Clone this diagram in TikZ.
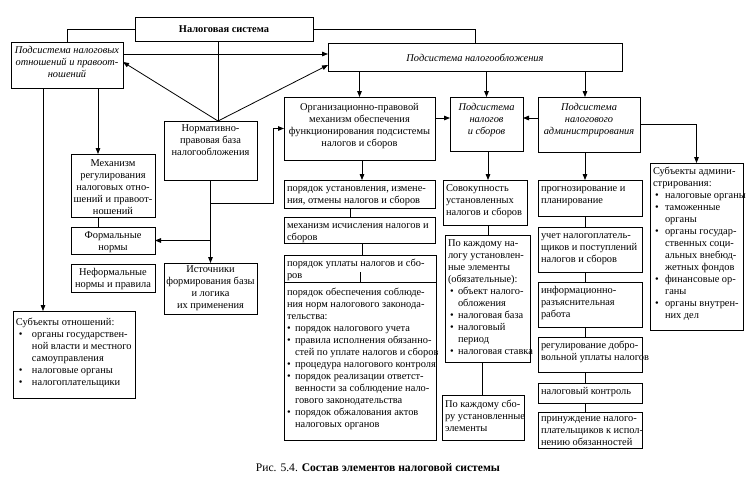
\documentclass[tikz,border=0pt]{standalone}
\usepackage{fontspec}
\setmainfont{Liberation Serif}
\usepackage{array}
\usetikzlibrary{arrows.meta,calc}
\tikzset{
  box/.style={draw, line width=0.8pt, inner xsep=3pt, inner ysep=0pt, outer sep=0pt,
    anchor=north west, font=\fontsize{10.4}{12}\selectfont},
  arr/.style={line width=0.8pt, -{Triangle[length=6pt,width=4.6pt]}},
  ln/.style={line width=0.8pt}
}
% [first-line height]{name}{x1}{y1}{x2}{y2}{l|c}{font}{lines}
\newcommand\drawbox[9][11]{%
  \pgfmathsetmacro\bxw{#5-#3}%
  \pgfmathsetmacro\bxh{#6-#4}%
  \pgfmathsetmacro\bxt{#5-#3-6}%
  \node[box,minimum width=\bxw pt,minimum height=\bxh pt] (#2) at (#3,#4)
    {\parbox[c][\bxh pt][t]{\bxt pt}{#8\makebox[\bxt pt][#7]{\begin{tabular}[t]{@{}#7@{}}\rule{0pt}{#1pt}#9\end{tabular}}}};}
\newcommand\bl[2]{\hspace*{#1pt}\makebox[\dimexpr#2pt-#1pt\relax][l]{\textbullet}}
\begin{document}
\begin{tikzpicture}[x=1pt,y=-1pt]
\fill[white] (0,0) rectangle (750,491);
\useasboundingbox (0,0) rectangle (750,491);

% top level
\drawbox[15.5]{sys}{135}{17}{313}{41}{c}{\bfseries}{Налоговая система}
\drawbox{sub1}{11}{42}{123}{88}{c}{\itshape}{Подсистема налоговых\\отношений и правоот-\\ношений}
\drawbox[18]{sub2}{328}{43}{622}{71}{c}{\itshape}{Подсистема налогообложения}

% second level
\drawbox[13]{org}{284}{97}{435}{160}{c}{}{Организационно-правовой\\механизм обеспечения\\функционирования подсистемы\\налогов и сборов}
\drawbox[13]{taxes}{450}{97}{523}{151}{c}{\itshape}{Подсистема\\налогов\\и сборов}
\drawbox[13]{adm}{538}{97}{640}{152}{c}{\itshape}{Подсистема\\налогового\\администрирования}
\drawbox[10]{norm}{164}{121}{257}{180}{c}{}{Нормативно-\\правовая база\\налогообложения}

% left column
\drawbox[12]{mekh}{71}{154}{155}{217}{c}{}{Механизм\\регулирования\\налоговых отно-\\шений и правоот-\\ношений}
\drawbox{formal}{71}{227}{155}{254}{c}{}{Формальные\\нормы}
\drawbox{neformal}{71}{264}{155}{292}{c}{}{Неформальные\\нормы и правила}
\drawbox[9]{istoch}{164}{263}{257}{314}{c}{}{Источники\\формирования базы\\и логика\\их применения}
\drawbox[14]{subotn}{13}{311}{135}{398}{l}{}{Субъекты отношений:\\
\bl{3}{16}органы государствен-\\
\hspace*{16pt}ной власти и местного\\
\hspace*{16pt}самоуправления\\
\bl{3}{16}налоговые органы\\
\bl{3}{16}налогоплательщики}

% middle column
\drawbox{ustan}{284}{180}{435}{208}{l}{}{порядок установления, измене-\\ния, отмены налогов и сборов}
\drawbox{ischisl}{284}{217}{435}{243}{l}{}{механизм исчисления налогов и\\сборов}
\drawbox{uplaty}{284}{255}{436}{282}{l}{}{порядок уплаты налогов и сбо-\\ров}
\drawbox[13]{obesp}{284}{282}{436}{440}{l}{}{порядок обеспечения соблюде-\\ния норм налогового законода-\\тельства:\\
\bl{0}{8}порядок налогового учета\\
\bl{0}{8}правила исполнения обязанно-\\
\hspace*{8pt}стей по уплате налогов и сборов\\
\bl{0}{8}процедура налогового контроля\\
\bl{0}{8}порядок реализации ответст-\\
\hspace*{8pt}венности за соблюдение нало-\\
\hspace*{8pt}гового законодательства\\
\bl{0}{8}порядок обжалования актов\\
\hspace*{8pt}налоговых органов}

% taxes column
\drawbox{sovok}{443}{180}{527}{225}{l}{}{Совокупность\\установленных\\налогов и сборов}
\drawbox{pokazh}{445}{235}{530}{362}{l}{}{По каждому на-\\логу установлен-\\ные элементы\\(обязательные):\\
\bl{2}{10}объект налого-\\
\hspace*{10pt}обложения\\
\bl{2}{10}налоговая база\\
\bl{2}{10}налоговый\\
\hspace*{10pt}период\\
\bl{2}{10}налоговая ставка}
\drawbox[12]{posbor}{442}{395}{524}{440}{l}{}{По каждому сбо-\\ру установленные\\элементы}

% administration column
\drawbox{prog}{538}{180}{642}{216}{l}{}{прогнозирование и\\планирование}
\drawbox{uchet}{538}{227}{642}{272}{l}{}{учет налогоплатель-\\щиков и поступлений\\налогов и сборов}
\drawbox{info}{538}{282}{642}{327}{l}{}{информационно-\\разъяснительная\\работа}
\drawbox{reg}{538}{337}{642}{372}{l}{}{регулирование добро-\\вольной уплаты налогов}
\drawbox{kontr}{538}{383}{642}{403}{l}{}{налоговый контроль}
\drawbox[9]{prin}{538}{412}{642}{448}{l}{}{принуждение налого-\\плательщиков к испол-\\нению обязанностей}
\drawbox{subadm}{650}{163}{743}{330}{l}{}{Субъекты админи-\\стрирования:\\
\bl{2}{12}налоговые органы\\
\bl{2}{12}таможенные\\
\hspace*{12pt}органы\\
\bl{2}{12}органы государ-\\
\hspace*{12pt}ственных соци-\\
\hspace*{12pt}альных внебюд-\\
\hspace*{12pt}жетных фондов\\
\bl{2}{12}финансовые ор-\\
\hspace*{12pt}ганы\\
\bl{2}{12}органы внутрен-\\
\hspace*{12pt}них дел}

% helper coordinates
\coordinate (apex) at (218,121);
\coordinate (xA) at (585,0);
\coordinate (xT) at (488,0);
\coordinate (xP) at (482,0);
\coordinate (xO) at (362,0);
\coordinate (xO2) at (350,0);
\coordinate (x98) at (98,0);
\coordinate (x43) at (43,0);
\coordinate (yH) at (0,118);
\coordinate (y124) at (0,124);
\coordinate (br) at (273,203);
\coordinate (tick) at (360,272);

% connectors
\draw[ln] (sys.west) -| (sub1.north);
\draw[ln] (sys.east) -| (sub2.north);
\draw[ln] (apex |- sys.south) -- (apex);
\draw[arr] (apex) -- ($(sub1.north east)+(0,20)$);
\draw[arr] (apex) -- ($(sub2.south west)+(0,-6)$);
\draw[arr] ($(sub1.north east)+(0,12)$) -- ($(sub2.north west)+(0,11)$);
\draw[arr] (org.north |- sub2.south) -- (org.north);
\draw[arr] (taxes.north |- sub2.south) -- (taxes.north);
\draw[arr] (xA |- sub2.south) -- (xA |- adm.north);
\draw[arr] (org.east |- yH) -- (taxes.west |- yH);
\draw[arr] (adm.west |- yH) -- (taxes.east |- yH);
\draw[arr] (adm.east |- y124) -| (subadm.north);
\draw[arr] (xA |- adm.south) -- (xA |- prog.north);
\draw[ln] (xA |- prog.south) -- (xA |- uchet.north);
\draw[ln] (xA |- uchet.south) -- (xA |- info.north);
\draw[ln] (xA |- info.south) -- (xA |- reg.north);
\draw[ln] (xA |- reg.south) -- (xA |- kontr.north);
\draw[ln] (xA |- kontr.south) -- (xA |- prin.north);
\draw[arr] (xT |- taxes.south) -- (xT |- sovok.north);
\draw[ln] (xT |- sovok.south) -- (xT |- pokazh.north);
\draw[ln] (xP |- pokazh.south) -- (xP |- posbor.north);
\draw[arr] (xO |- org.south) -- (xO |- ustan.north);
\draw[ln] (xO2 |- ustan.south) -- (xO2 |- ischisl.north);
\draw[ln] (xO |- ischisl.south) -- (xO |- uplaty.north);
\draw[ln] (tick) -- (tick |- uplaty.south);
\draw[arr] (x98 |- sub1.south) -- (x98 |- mekh.north);
\draw[ln] (x98 |- mekh.south) -- (x98 |- formal.north);
\draw[arr] (x43 |- sub1.south) -- (x43 |- subotn.north);
\draw[arr] (norm.south) -- (istoch.north);
\draw[arr] (norm.south |- formal.east) -- (formal.east);
\draw[arr] (norm.south |- br) -- (br) |- (org.west);

% caption
\node[font=\fontsize{11.6}{13}\selectfont] (cap) at (378,468) {Рис. 5.4. \textbf{Состав элементов налоговой системы}};
\end{tikzpicture}
\end{document}
